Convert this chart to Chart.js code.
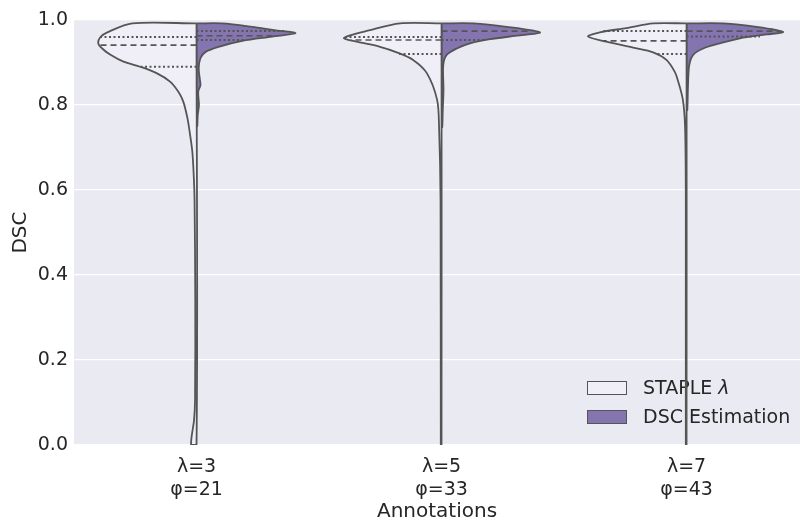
<!DOCTYPE html>
<html>
<head>
<meta charset="utf-8">
<title>DSC by annotations</title>
<script src="https://cdn.jsdelivr.net/npm/chart.js@4.4.1/dist/chart.umd.min.js"></script>
<style>
  html, body { margin: 0; padding: 0; background: #ffffff; }
  #wrap { width: 800px; height: 524px; }
</style>
</head>
<body>
<div id="wrap"><canvas id="violinChart" width="800" height="524"></canvas></div>
<script>
const categories = ['λ=3', 'λ=5', 'λ=7'];
const phiLabels = ['φ=21', 'φ=33', 'φ=43'];
const seriesNames = ['STAPLE λ', 'DSC Estimation'];
const yTicks = [0.0, 0.2, 0.4, 0.6, 0.8, 1.0];

// STAPLE λ density: DSC levels (top to bottom) and half-width in category units
const stapleDsc = [
    [0.992, 0.971, 0.960, 0.945, 0.933, 0.918, 0.902, 0.890, 0.875, 0.855, 0.831, 0.808, 0.769, 0.729, 0.690, 0.630, 0.576, 0.341, 0.106, 0.059, 0.0],
    [0.992, 0.976, 0.958, 0.949, 0.937, 0.924, 0.906, 0.875, 0.812, 0.748, 0.576, 0.0],
    [0.992, 0.981, 0.971, 0.961, 0.949, 0.935, 0.924, 0.906, 0.878, 0.859, 0.812, 0.748, 0.576, 0.0]
];
const stapleWidth = [
    [0.262, 0.364, 0.392, 0.401, 0.385, 0.351, 0.298, 0.230, 0.163, 0.108, 0.074, 0.054, 0.037, 0.026, 0.017, 0.011, 0.008, 0.005, 0.006, 0.010, 0.022],
    [0.169, 0.292, 0.398, 0.346, 0.251, 0.183, 0.116, 0.060, 0.018, 0.010, 0.004, 0.003],
    [0.136, 0.245, 0.354, 0.402, 0.327, 0.218, 0.136, 0.082, 0.048, 0.036, 0.015, 0.006, 0.003, 0.003]
];

// DSC Estimation density
const estimateDsc = [
    [0.992, 0.984, 0.976, 0.969, 0.961, 0.951, 0.937, 0.925, 0.910, 0.886, 0.859, 0.847, 0.831, 0.800, 0.776, 0.750],
    [0.992, 0.984, 0.971, 0.963, 0.955, 0.945, 0.933, 0.918, 0.894, 0.835, 0.788, 0.748],
    [0.992, 0.984, 0.972, 0.966, 0.957, 0.945, 0.933, 0.918, 0.894, 0.847, 0.788]
];
const estimateWidth = [
    [0.105, 0.227, 0.318, 0.404, 0.309, 0.187, 0.090, 0.037, 0.016, 0.009, 0.014, 0.016, 0.007, 0.010, 0.005, 0.003],
    [0.130, 0.266, 0.402, 0.307, 0.198, 0.116, 0.062, 0.021, 0.007, 0.008, 0.005, 0.003],
    [0.149, 0.286, 0.394, 0.327, 0.218, 0.136, 0.068, 0.027, 0.011, 0.006, 0.003]
];

// quartiles [q1, median, q3] and the density half-width at each one
const stapleQuartiles = [[0.890, 0.941, 0.960], [0.920, 0.953, 0.960], [0.920, 0.951, 0.974]];
const stapleQuartileWidth = [[0.230, 0.398, 0.392], [0.183, 0.370, 0.390], [0.125, 0.340, 0.340]];
const estimateQuartiles = [[0.953, 0.963, 0.974], [0.953, 0.974, null], [0.961, 0.974, null]];
const estimateQuartileWidth = [[0.200, 0.330, 0.360], [0.184, 0.361, null], [0.300, 0.380, null]];

const COLORS = ['#f0eff8', '#8474b0'];
const EDGE = '#555555';
const TEXT = '#262626';

Chart.defaults.font.family = '"DejaVu Sans", sans-serif';
Chart.defaults.color = TEXT;

// one half of a split violin as a closed outline, filled inside
function halfViolin(center, side, dsc, width, color) {
    const pts = [{x: center, y: dsc[0]}];
    dsc.forEach((v, i) => pts.push({x: center + side * width[i], y: v}));
    pts.push({x: center, y: dsc[dsc.length - 1]});
    pts.push({x: center, y: dsc[0]});
    return {
        data: pts,
        indexAxis: 'y',
        fill: 'shape',
        backgroundColor: color,
        borderColor: EDGE,
        borderWidth: 1.8,
        pointRadius: 0,
        tension: 0.3,
        order: 2
    };
}

// dashed median, dotted quartiles
function quartileLines(center, side, qs, ws) {
    return qs.map((q, i) => {
        if (q === null) return null;
        return {
            data: [{x: center, y: q}, {x: center + side * ws[i], y: q}],
            borderColor: EDGE,
            borderWidth: i === 1 ? 1.7 : 2,
            borderDash: i === 1 ? [6, 4] : [2, 2.5],
            pointRadius: 0,
            fill: false,
            order: 1
        };
    }).filter(d => d);
}

const datasets = [];
categories.forEach((c, k) => {
    datasets.push(halfViolin(k, -1, stapleDsc[k], stapleWidth[k], COLORS[0]));
    datasets.push(halfViolin(k, 1, estimateDsc[k], estimateWidth[k], COLORS[1]));
    datasets.push(...quartileLines(k, -1, stapleQuartiles[k], stapleQuartileWidth[k]));
    datasets.push(...quartileLines(k, 1, estimateQuartiles[k], estimateQuartileWidth[k]));
});

const plotBackground = {
    id: 'plotBackground',
    beforeDraw(chart) {
        const {ctx, chartArea: a} = chart;
        ctx.save();
        ctx.fillStyle = '#eaeaf2';
        ctx.fillRect(a.left, a.top, a.right - a.left, a.bottom - a.top);
        ctx.restore();
    }
};

// legend sits in the lower right of the plot, under the violin outlines
const cornerLegend = {
    id: 'cornerLegend',
    beforeDatasetsDraw(chart) {
        const {ctx, chartArea: a} = chart;
        const x = a.right - 213;
        seriesNames.forEach((name, i) => {
            const y = a.bottom - 57 + i * 29;
            ctx.save();
            ctx.fillStyle = COLORS[i];
            ctx.fillRect(x, y - 7, 40, 14);
            ctx.strokeStyle = EDGE;
            ctx.lineWidth = 1;
            ctx.strokeRect(x + 0.5, y - 6.5, 39, 13);
            ctx.fillStyle = TEXT;
            ctx.textBaseline = 'middle';
            ctx.font = '19px "DejaVu Sans"';
            const parts = name.split(' ');
            if (parts[parts.length - 1] === 'λ') {
                const head = parts.slice(0, -1).join(' ') + ' ';
                ctx.fillText(head, x + 56, y + 1);
                const w = ctx.measureText(head).width;
                ctx.font = 'italic 19px "DejaVu Sans"';
                ctx.fillText('λ', x + 56 + w, y + 1);
            } else {
                ctx.fillText(name, x + 56, y + 1);
            }
            ctx.restore();
        });
    }
};

new Chart(document.getElementById('violinChart'), {
    type: 'line',
    data: { datasets },
    plugins: [plotBackground, cornerLegend],
    options: {
        responsive: false,
        devicePixelRatio: 1,
        animation: false,
        layout: { padding: { top: 20, right: 0, left: 0, bottom: 0 } },
        plugins: {
            legend: { display: false },
            tooltip: { enabled: false }
        },
        scales: {
            x: {
                type: 'linear',
                min: -0.5,
                max: 2.463,
                afterBuildTicks: scale => {
                    scale.ticks = categories.map((c, i) => ({value: i}));
                },
                afterFit: scale => { scale.height = 79; },
                ticks: {
                    padding: 3,
                    font: { size: 19 },
                    callback: v => [categories[v], phiLabels[v]]
                },
                grid: { display: false },
                border: { display: false },
                title: {
                    display: true,
                    text: 'Annotations',
                    font: { size: 20 },
                    padding: { top: 0, bottom: 0 }
                }
            },
            y: {
                type: 'linear',
                min: 0,
                max: 1,
                afterBuildTicks: scale => {
                    scale.ticks = yTicks.map(v => ({value: v}));
                },
                afterFit: scale => { scale.width = 74; },
                ticks: {
                    padding: 6,
                    font: { size: 19 },
                    callback: v => v.toFixed(1)
                },
                grid: { color: '#ffffff', lineWidth: 1.3, drawTicks: false },
                border: { display: false },
                title: {
                    display: true,
                    text: 'DSC',
                    font: { size: 20 },
                    padding: { top: 9, bottom: 0 }
                }
            }
        }
    }
});
</script>
</body>
</html>
